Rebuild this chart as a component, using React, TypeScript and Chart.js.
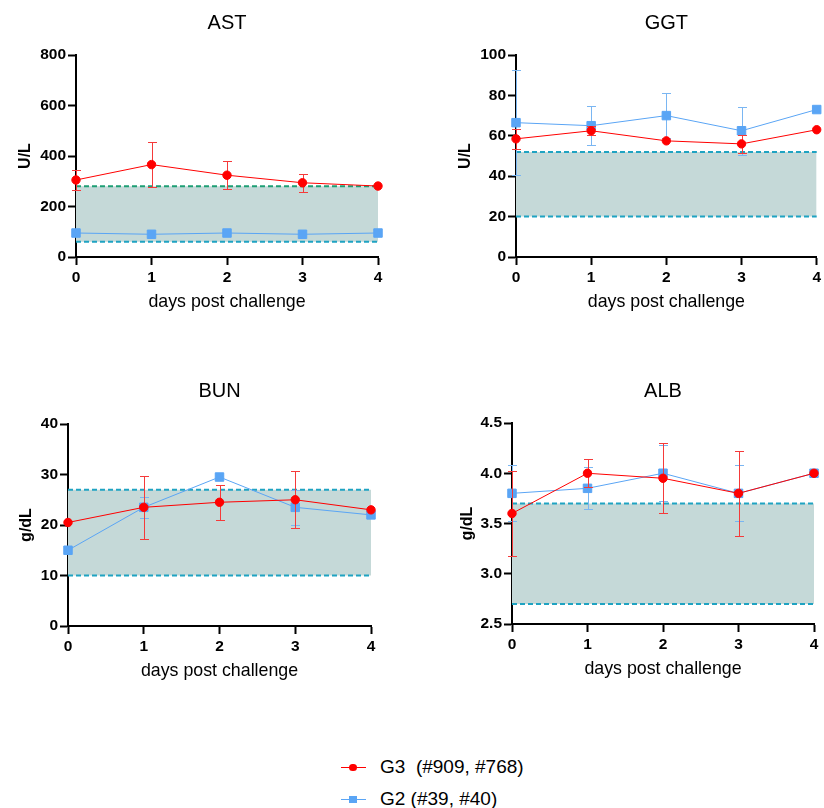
import React, { useEffect, useRef } from "react";
import { Chart, registerables } from "chart.js";

Chart.register(...registerables);

// ---------------- data ----------------
const days = [0, 1, 2, 3, 4];
const seriesNames = ["G3  (#909, #768)", "G2 (#39, #40)"];
const xAxisTitle = "days post challenge";

// AST (U/L)
const astG3 = [305, 366, 324, 294, 281];
const astG3Err = [41, 90, 55, 35, 0];
const astG2 = [95, 90, 95, 90, 95];
const astG2Err = [0, 0, 0, 0, 0];
const astRange = [60, 280];
const astTicks = [0, 800, 200];

// GGT (U/L)
const ggtG3 = [58.5, 62.5, 57.5, 56, 63];
const ggtG3Err = [5, 2.3, 0, 4.3, 0];
const ggtG2 = [66.5, 65, 70, 62.5, 73];
const ggtG2Err = [26, 9.8, 11.3, 12, 0];
const ggtRange = [20, 52];
const ggtTicks = [0, 100, 20];

// BUN (g/dL)
const bunG3 = [20.5, 23.5, 24.5, 25, 23];
const bunG3Err = [0, 6.3, 3.5, 5.6, 0];
const bunG2 = [15, 23.5, 29.5, 23.5, 22];
const bunG2Err = [0, 2.1, 0, 3.5, 0];
const bunRange = [10, 27];
const bunTicks = [0, 40, 10];

// ALB (g/dL)
const albG3 = [3.6, 4.0, 3.95, 3.8, 4.0];
const albG3Err = [0.42, 0.14, 0.35, 0.42, 0];
const albG2 = [3.8, 3.85, 4.0, 3.8, 4.0];
const albG2Err = [0.28, 0.21, 0.28, 0.28, 0];
const albRange = [2.7, 3.7];
const albTicks = [2.5, 4.5, 0.5];

// ---------------- styles ----------------
const FONT = '"Liberation Sans", Arial, Helvetica, sans-serif';
const RED = "#ff0000";
const RED_ERR = "#f53a3a";
const BLUE = "#5aa5f5";
const BLUE_ERR = "#7ab6f2";
const BAND = "#c5d9d8";
const TEAL = "#1fa3c2";
const GREEN = "#1e9e74";

type Spec = {
  title: string;
  unit: string;
  g3: number[];
  g3Err: number[];
  g2: number[];
  g2Err: number[];
  range: number[];
  ticks: number[];
  decimals: number;
  upperColor: string;
  lowerColor: string;
};

type Frame = {
  left: number;
  top: number;
  areaLeft: number;
  areaRight: number;
  areaTop: number;
  areaBottom: number;
  titleY: number;
  xTitleY: number;
  yTitleX: number;
};

const specs: Spec[] = [
  { title: "AST", unit: "U/L", g3: astG3, g3Err: astG3Err, g2: astG2, g2Err: astG2Err, range: astRange, ticks: astTicks, decimals: 0, upperColor: GREEN, lowerColor: TEAL },
  { title: "GGT", unit: "U/L", g3: ggtG3, g3Err: ggtG3Err, g2: ggtG2, g2Err: ggtG2Err, range: ggtRange, ticks: ggtTicks, decimals: 0, upperColor: TEAL, lowerColor: TEAL },
  { title: "BUN", unit: "g/dL", g3: bunG3, g3Err: bunG3Err, g2: bunG2, g2Err: bunG2Err, range: bunRange, ticks: bunTicks, decimals: 0, upperColor: TEAL, lowerColor: TEAL },
  { title: "ALB", unit: "g/dL", g3: albG3, g3Err: albG3Err, g2: albG2, g2Err: albG2Err, range: albRange, ticks: albTicks, decimals: 1, upperColor: TEAL, lowerColor: TEAL },
];

const frames: Frame[] = [
  { left: 0, top: 0, areaLeft: 76, areaRight: 378, areaTop: 55, areaBottom: 257, titleY: 23, xTitleY: 302, yTitleX: 25 },
  { left: 412, top: 0, areaLeft: 516, areaRight: 819, areaTop: 55, areaBottom: 257, titleY: 23, xTitleY: 302, yTitleX: 465 },
  { left: 0, top: 368, areaLeft: 68, areaRight: 371, areaTop: 424, areaBottom: 626, titleY: 391, xTitleY: 671, yTitleX: 26 },
  { left: 412, top: 368, areaLeft: 512, areaRight: 814, areaTop: 423, areaBottom: 624, titleY: 391, xTitleY: 669, yTitleX: 467 },
];

const CW = 412;
const CH = 340;
const XAX_H = 60;
const TITLE_SIZE = 20;
const XT_SIZE = 17.8;
const YT_SIZE = 16;

const errorBarPlugin = {
  id: "errorBars",
  beforeDatasetDraw(chart: any, args: any) {
    const ds = chart.data.datasets[args.index];
    if (!ds.errors) return;
    const yScale = chart.scales.y;
    const ctx = chart.ctx;
    ctx.save();
    ctx.strokeStyle = ds.errorColor;
    ctx.lineWidth = 1;
    args.meta.data.forEach((pt: any, i: number) => {
      const e = ds.errors[i];
      if (!e) return;
      const v = ds.data[i].y;
      const x = Math.round(pt.x) + 0.5;
      const yT = Math.round(yScale.getPixelForValue(v + e)) + 0.5;
      const yB = Math.round(yScale.getPixelForValue(v - e)) + 0.5;
      ctx.beginPath();
      ctx.moveTo(x, yT);
      ctx.lineTo(x, yB);
      ctx.moveTo(x - 4.5, yT);
      ctx.lineTo(x + 4.5, yT);
      ctx.moveTo(x - 4.5, yB);
      ctx.lineTo(x + 4.5, yB);
      ctx.stroke();
    });
    ctx.restore();
  },
};

function Panel({ spec, frame }: { spec: Spec; frame: Frame }) {
  const ref = useRef<HTMLCanvasElement | null>(null);
  useEffect(() => {
    if (!ref.current) return;
    const aL = frame.areaLeft - frame.left;
    const aR = frame.areaRight - frame.left;
    const aT = frame.areaTop - frame.top;
    const aB = frame.areaBottom - frame.top;
    const tY = frame.titleY - frame.top;
    const xT = frame.xTitleY - frame.top;
    const yT = frame.yTitleX - frame.left;
    const titleLH = TITLE_SIZE * 1.2;
    const xtLH = XT_SIZE * 1.2;
    const ytLH = YT_SIZE * 1.2;
    const first = days[0];
    const last = days[days.length - 1];
    const toPts = (arr: number[]) => days.map((d, i) => ({ x: d, y: arr[i] }));

    const chart = new Chart(ref.current, {
      type: "line",
      data: {
        datasets: [
          {
            label: seriesNames[0],
            data: toPts(spec.g3),
            errors: spec.g3Err,
            errorColor: RED_ERR,
            borderColor: RED,
            backgroundColor: RED,
            borderWidth: 1,
            pointStyle: "circle",
            pointRadius: 4.2,
            pointBorderWidth: 1,
            pointBackgroundColor: RED,
            pointBorderColor: RED,
            fill: false,
            clip: false,
            order: 0,
          } as any,
          {
            label: seriesNames[1],
            data: toPts(spec.g2),
            errors: spec.g2Err,
            errorColor: BLUE_ERR,
            borderColor: BLUE,
            backgroundColor: BLUE,
            borderWidth: 1,
            pointStyle: "rect",
            pointRadius: 6,
            pointBorderWidth: 1,
            pointBackgroundColor: BLUE,
            pointBorderColor: BLUE,
            fill: false,
            clip: false,
            order: 1,
          } as any,
          {
            label: "upper",
            data: [
              { x: first, y: spec.range[1] },
              { x: last, y: spec.range[1] },
            ],
            borderColor: spec.upperColor,
            borderWidth: 2,
            borderDash: [5, 3],
            pointRadius: 0,
            fill: "+1",
            backgroundColor: BAND,
            clip: false,
            order: 10,
          } as any,
          {
            label: "lower",
            data: [
              { x: first, y: spec.range[0] },
              { x: last, y: spec.range[0] },
            ],
            borderColor: spec.lowerColor,
            borderWidth: 2,
            borderDash: [5, 3],
            pointRadius: 0,
            fill: false,
            clip: false,
            order: 11,
          } as any,
        ],
      },
      options: {
        responsive: false,
        animation: false,
        events: [],
        layout: {
          padding: { left: 0, top: 0, right: CW - aR, bottom: CH - aB - XAX_H },
        },
        plugins: {
          legend: { display: false },
          tooltip: { enabled: false },
          filler: { drawTime: "beforeDatasetsDraw" },
          title: {
            display: true,
            text: spec.title,
            fullSize: false,
            color: "#000",
            font: { family: FONT, size: TITLE_SIZE, weight: "normal", lineHeight: 1.2 },
            padding: { top: tY - titleLH / 2, bottom: aT - tY - titleLH / 2 },
          },
        } as any,
        scales: {
          x: {
            type: "linear",
            min: first,
            max: last,
            ticks: {
              stepSize: 1,
              color: "#000",
              font: { family: FONT, size: 15.5, weight: "bold" },
              padding: 3,
              maxRotation: 0,
            },
            grid: { drawOnChartArea: false, drawTicks: true, tickLength: 8, tickWidth: 2, tickColor: "#000" },
            border: { display: true, color: "#000", width: 2 },
            title: {
              display: true,
              text: xAxisTitle,
              color: "#000",
              font: { family: FONT, size: XT_SIZE, weight: "normal", lineHeight: 1.2 },
              padding: { top: 0, bottom: aB + XAX_H - xtLH / 2 - xT },
            },
            afterFit: (s: any) => {
              s.height = XAX_H;
            },
          },
          y: {
            type: "linear",
            min: spec.ticks[0],
            max: spec.ticks[1],
            ticks: {
              stepSize: spec.ticks[2],
              color: "#000",
              font: { family: FONT, size: 15.5, weight: "bold" },
              padding: 2,
              callback: (v: any) => Number(v).toFixed(spec.decimals),
            },
            grid: { drawOnChartArea: false, drawTicks: true, tickLength: 8, tickWidth: 2, tickColor: "#000" },
            border: { display: true, color: "#000", width: 2 },
            title: {
              display: true,
              text: spec.unit,
              color: "#000",
              font: { family: FONT, size: YT_SIZE, weight: "bold", lineHeight: 1.2 },
              padding: { top: yT - ytLH / 2 + 1, bottom: 0 },
            },
            afterFit: (s: any) => {
              s.width = aL;
            },
          },
        } as any,
      },
      plugins: [errorBarPlugin],
    } as any);
    return () => chart.destroy();
  }, [spec, frame]);

  return (
    <canvas
      ref={ref}
      width={CW}
      height={CH}
      style={{ position: "absolute", left: frame.left, top: frame.top, width: CW, height: CH }}
    />
  );
}

function LegendRow({ y, color, shape, text }: { y: number; color: string; shape: "circle" | "square"; text: string }) {
  return (
    <div style={{ position: "absolute", left: 0, top: y - 12, height: 24, width: 824 }}>
      <div style={{ position: "absolute", left: 341, top: 11.5, width: 25, height: 1.5, background: color }} />
      <div
        style={{
          position: "absolute",
          left: 349,
          top: 8.5,
          width: 7.5,
          height: 7.5,
          background: color,
          borderRadius: shape === "circle" ? "50%" : 0,
        }}
      />
      <div
        style={{
          position: "absolute",
          left: 380,
          top: 0,
          height: 24,
          lineHeight: "24px",
          fontFamily: FONT,
          fontSize: 19,
          color: "#000",
          whiteSpace: "pre",
        }}
      >
        {text}
      </div>
    </div>
  );
}

export default function App() {
  return (
    <div style={{ position: "absolute", left: 0, top: 0, width: 824, height: 808, background: "#fff", overflow: "hidden" }}>
      {specs.map((s, i) => (
        <Panel key={s.title} spec={s} frame={frames[i]} />
      ))}
      <LegendRow y={767} color={RED} shape="circle" text={seriesNames[0]} />
      <LegendRow y={799} color={BLUE} shape="square" text={seriesNames[1]} />
    </div>
  );
}
